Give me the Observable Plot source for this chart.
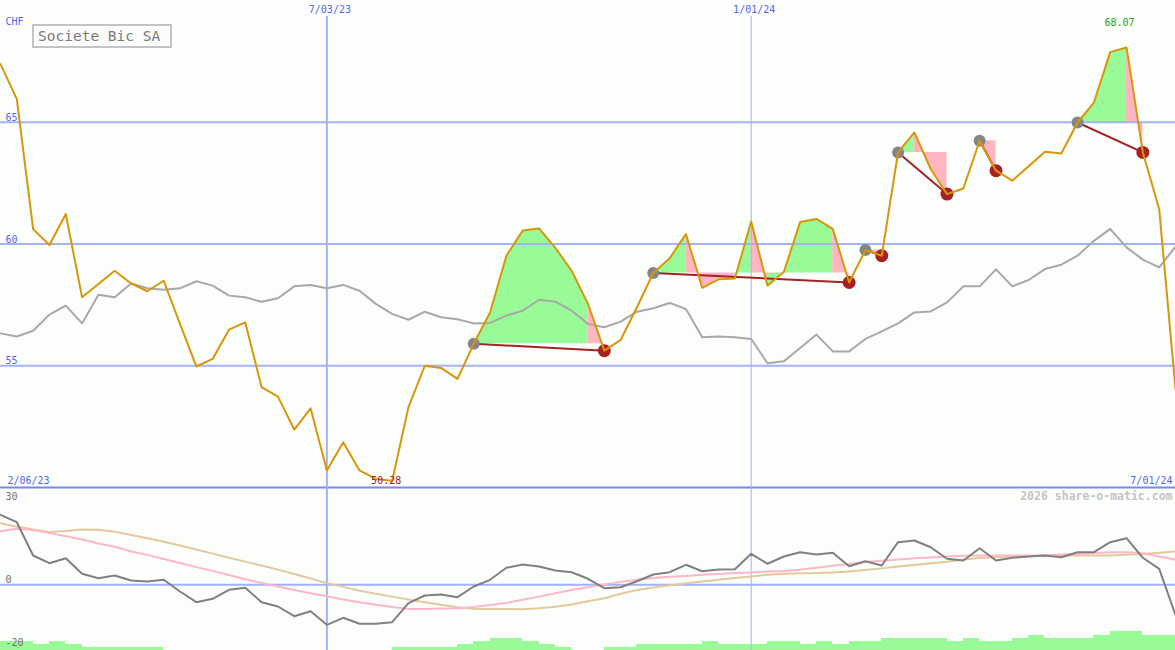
<!DOCTYPE html>
<html><head><meta charset="utf-8">
<script src="https://cdn.jsdelivr.net/npm/d3@7"></script>
<script src="https://cdn.jsdelivr.net/npm/@observablehq/plot@0.6"></script>
<style>
html,body{margin:0;padding:0;background:#fcfefc;}
#chart{position:relative;width:1175px;height:650px;overflow:hidden;background:#fcfefc;font-family:"DejaVu Sans Mono",monospace;}
#chart svg{position:absolute;left:0;display:block;}
#title{position:absolute;left:32px;top:24px;width:132px;height:20px;border:2px solid #c4c4c4;background:#fcfefc;color:#7a7a7a;font:14.5px "DejaVu Sans Mono",monospace;line-height:20px;padding-left:4px;box-sizing:content-box;z-index:5;white-space:pre;}
</style>
</head><body>
<div id="chart"><div id="title">Societe Bic SA</div></div>
<script>
// ---- data ----
const startWeek = new Date(Date.UTC(2023, 1, 13));
const endWeek = new Date(Date.UTC(2024, 6, 2));
const weeks = d3.utcMonday.range(startWeek, endWeek); // 73 weekly closes

const price = [67.39,65.95,60.61,59.96,61.23,57.81,58.36,58.90,58.38,58.06,
  58.49,56.72,54.97,55.28,56.48,56.78,54.12,53.73,52.38,53.25,
  50.70,51.86,50.70,50.35,50.28,53.30,55.00,54.91,54.46,55.90,
  57.19,59.52,60.55,60.64,59.84,58.90,57.54,55.62,56.06,57.40,
  58.81,59.41,60.41,58.20,58.55,58.58,60.92,58.29,58.85,60.90,
  61.03,60.62,58.42,59.75,59.52,63.76,64.58,63.08,62.05,62.28,
  64.24,63.01,62.60,63.19,63.79,63.72,64.99,65.81,67.88,68.07,
  63.76,61.44,54.05];

const relative = [56.33,56.20,56.44,57.10,57.47,56.74,57.92,57.81,58.38,58.18,
  58.12,58.18,58.47,58.29,57.88,57.81,57.63,57.77,58.26,58.32,
  58.18,58.32,58.08,57.54,57.13,56.89,57.22,56.99,56.91,56.74,
  56.76,57.06,57.26,57.71,57.63,57.26,56.72,56.58,56.81,57.22,
  57.36,57.58,57.33,56.17,56.20,56.17,56.10,55.10,55.18,55.73,
  56.28,55.59,55.59,56.10,56.41,56.74,57.19,57.23,57.60,58.26,
  58.26,58.96,58.26,58.52,58.97,59.15,59.52,60.13,60.62,59.86,
  59.36,59.04,59.89];

const tradeEntry = [29, 40, 53, 55, 60, 66];
const tradeExit = [37, 52, 54, 58, 61, 70];
const tradeShade = ["GGGGGGGP", "GGPPPGPGGGGP", "P", "GPP", "P", "GGGP"];

const oscillator = [22.26,19.9,9.30,6.85,8.44,3.47,2.07,2.93,1.34,1.02,
  1.56,-2.17,-5.57,-4.49,-1.62,-0.99,-5.57,-6.94,-10.03,-8.44,
  -12.77,-10.54,-12.45,-12.45,-11.94,-5.89,-3.44,-3.12,-3.98,-0.57,
  1.56,5.38,6.43,5.80,4.52,3.98,1.88,-1.11,-0.80,1.11,
  3.25,3.98,6.34,4.30,4.84,4.94,9.84,6.66,8.98,10.35,
  9.62,10.16,5.89,7.48,6.11,13.54,14.08,11.94,8.25,7.71,
  11.62,7.71,8.57,8.98,9.30,8.76,10.35,10.35,13.54,14.81,
  8.57,5.06,-9.59];

const signalPink = [17.0,17.8,17.4,16.45,15.4,14.4,13.1,12.1,10.6,9.5,
  8.2,6.9,5.6,4.4,3.1,1.75,0.55,-0.6,-1.7,-2.7,
  -3.7,-4.7,-5.6,-6.4,-7.1,-7.7,-7.7,-7.6,-7.5,-7.1,
  -6.5,-5.8,-4.8,-3.8,-2.7,-1.7,-0.8,0.1,0.9,1.6,
  2.1,2.5,2.8,3.2,3.4,3.7,3.9,4.2,4.4,4.8,
  5.4,6.0,6.6,7.2,7.6,8.0,8.4,8.7,9.0,9.2,
  9.3,9.3,9.3,9.3,9.3,9.6,9.8,10.1,10.3,10.35,
  10.0,9.0,8.0];

const signalTan = [19.6,18.5,17.6,16.8,17.1,17.6,17.5,16.9,15.8,14.8,
  13.7,12.5,11.2,9.9,8.6,7.35,6.1,4.8,3.4,2.0,
  0.5,-0.7,-1.9,-2.9,-3.8,-4.7,-5.6,-6.4,-7.2,-7.7,
  -7.7,-7.7,-7.8,-7.5,-7.0,-6.3,-5.3,-4.3,-2.9,-1.7,
  -0.9,-0.2,0.45,1.05,1.6,2.1,2.6,3.2,3.5,3.66,
  3.7,3.9,4.2,4.7,5.2,5.8,6.3,6.8,7.3,8.0,
  8.5,8.8,9.0,9.1,9.3,9.3,9.3,9.3,9.3,9.5,
  9.8,10.2,10.6];

const volume = [9,9,6,9,6,3,3,3,3,3, 0,0,0,0,0,0,0,0,0,0,
  0,0,0,0,3,3,3,3,6,9, 12,12,9,6,3,0,0,3,3,6,
  6,6,6,9,6,6,6,9,9,6, 9,6,9,9,12,12,12,12,9,12,
  9,9,12,15,12,12,12,15,19,19, 15,15];

const yTicks = [65, 60, 55];
const oscTopTick = [30];
const oscLowTicks = [0, -20];
const dateTicks = [new Date(Date.UTC(2023, 6, 3)), new Date(Date.UTC(2024, 0, 1))];
const dateTickLabels = ["7/03/23", "1/01/24"];
const startLabel = "2/06/23";
const endLabel = "7/01/24";
const currency = "CHF";
const watermark = "2026 share-o-matic.com";

// ---- derived tables ----
const series = weeks.map((d, i) => ({date: d, price: price[i], rel: relative[i], osc: oscillator[i], pink: signalPink[i], tan: signalTan[i]}));
const trades = tradeEntry.map((e, t) => ({entry: e, exit: tradeExit[t]}));
// merge consecutive intervals of the same shade into one run (one polygon)
const segs = [];
trades.forEach((tr, t) => {
  const base = price[tr.entry];
  const s = tradeShade[t];
  let k = 0;
  while (k < s.length) {
    let e = k;
    while (e + 1 < s.length && s[e + 1] === s[k]) e++;
    const id = t + "-" + k;
    for (let j = tr.entry + k; j <= tr.entry + e + 1; j++) segs.push({seg: id, kind: s[k], date: weeks[j], price: price[j], base});
    k = e + 1;
  }
});
const iMin = d3.minIndex(price), iMax = d3.maxIndex(price);
const volBars = volume.map((v, i) => ({x1: weeks[i], x2: weeks[i + 1], v}));

const xScale = {type: "utc", domain: [weeks[0], weeks[weeks.length - 1]], range: [0, 1175], axis: null};
const grid = "#a3b2f3", blue = "#5565ef", font = "DejaVu Sans Mono";

const main = Plot.plot({
  width: 1175, height: 489, margin: 0,
  style: {background: "transparent", fontFamily: font, overflow: "visible"},
  x: xScale,
  y: {domain: [50, 70], range: [487, 0], axis: null},
  marks: [
    Plot.areaY(segs.filter(d => d.kind === "G"), {x: "date", y1: "base", y2: "price", z: "seg", fill: "#98fb98"}),
    Plot.areaY(segs.filter(d => d.kind === "P"), {x: "date", y1: "base", y2: "price", z: "seg", fill: "#ffb6c1"}),
    Plot.ruleY(yTicks, {stroke: grid, strokeWidth: 2}),
    Plot.ruleY([50], {stroke: "#7888ee", strokeWidth: 2}),
    Plot.ruleX(dateTicks.slice(0, 1), {stroke: grid, strokeWidth: 2, insetTop: 16}),
    Plot.ruleX(dateTicks.slice(1), {stroke: grid, strokeWidth: 1, insetTop: 16}),
    Plot.line(series, {x: "date", y: "rel", stroke: "#a8a8a8", strokeWidth: 2}),
    Plot.link(trades, {x1: d => weeks[d.entry], y1: d => price[d.entry], x2: d => weeks[d.exit], y2: d => price[d.exit], stroke: "#a52222", strokeWidth: 2}),
    Plot.dot(tradeEntry, {x: i => weeks[i], y: i => price[i], r: 6, fill: "#858585"}),
    Plot.dot(tradeExit, {x: i => weeks[i], y: i => price[i], r: 6.5, fill: "#a82020"}),
    Plot.line(series, {x: "date", y: "price", stroke: "#d9960a", strokeWidth: 2}),
    Plot.text(yTicks, {frameAnchor: "left", y: d => d, text: d => String(d), dx: 5, dy: -1.5, lineAnchor: "bottom", textAnchor: "start", fill: blue, fontSize: 10}),
    Plot.text([currency], {frameAnchor: "top-left", text: d => d, dx: 5, dy: 17, lineAnchor: "top", textAnchor: "start", fill: blue, fontSize: 10}),
    Plot.text(dateTicks, {x: d => d, frameAnchor: "top", text: (d, i) => dateTickLabels[i], dx: 3, dy: 5, lineAnchor: "top", fill: blue, fontSize: 10}),
    Plot.text([startLabel], {frameAnchor: "left", y: () => 50, text: d => d, dx: 7, dy: -4, lineAnchor: "bottom", textAnchor: "start", fill: blue, fontSize: 10}),
    Plot.text([endLabel], {frameAnchor: "right", y: () => 50, text: d => d, dx: -3, dy: -4, lineAnchor: "bottom", textAnchor: "end", fill: blue, fontSize: 10}),
    Plot.text([iMin], {x: i => weeks[i], y: i => price[i], text: i => price[i].toFixed(2), dx: -6, dy: 3, lineAnchor: "bottom", fill: "#9a1f1f", fontSize: 10}),
    Plot.text([iMax], {x: i => weeks[i], y: i => price[i], text: i => price[i].toFixed(2), dx: -7, dy: -21.5, lineAnchor: "bottom", fill: "#22a022", fontSize: 10})
  ]
});

const vol = Plot.plot({
  width: 1175, height: 30, margin: 0,
  style: {background: "transparent"},
  x: xScale,
  y: {domain: [0, 30], range: [30, 0], axis: null},
  marks: [Plot.rectY(volBars, {x1: "x1", x2: "x2", y: "v", fill: "#98fb98", shapeRendering: "crispEdges"})]
});

const lower = Plot.plot({
  width: 1175, height: 163, margin: 0,
  style: {background: "transparent", fontFamily: font, overflow: "visible"},
  x: xScale,
  y: {domain: [-20, 30], range: [160, 3], axis: null},
  marks: [
    Plot.ruleY([0], {stroke: grid, strokeWidth: 2}),
    Plot.ruleX(dateTicks.slice(0, 1), {stroke: grid, strokeWidth: 2}),
    Plot.ruleX(dateTicks.slice(1), {stroke: grid, strokeWidth: 1}),
    Plot.line(series, {x: "date", y: "tan", stroke: "#e3ca9c", strokeWidth: 2}),
    Plot.line(series, {x: "date", y: "pink", stroke: "#ffb6c6", strokeWidth: 2}),
    Plot.line(series, {x: "date", y: "osc", stroke: "#808080", strokeWidth: 2}),
    Plot.text(oscTopTick, {frameAnchor: "left", y: d => d, text: d => String(d), dx: 5, dy: 2, lineAnchor: "top", textAnchor: "start", fill: "#707070", fontSize: 10}),
    Plot.text(oscLowTicks, {frameAnchor: "left", y: d => d, text: d => String(d), dx: 5, dy: -1.5, lineAnchor: "bottom", textAnchor: "start", fill: "#707070", fontSize: 10}),
    Plot.text([watermark], {frameAnchor: "top-right", text: d => d, dx: -3, dy: 9, lineAnchor: "middle", textAnchor: "end", fill: "#c4c4c4", fontWeight: "bold", fontSize: 11.5})
  ]
});

const chart = document.getElementById("chart");
main.style.top = "0px";
vol.style.top = "620px";
lower.style.top = "487px";
chart.appendChild(vol);
chart.appendChild(main);
chart.appendChild(lower);
</script>
</body></html>
